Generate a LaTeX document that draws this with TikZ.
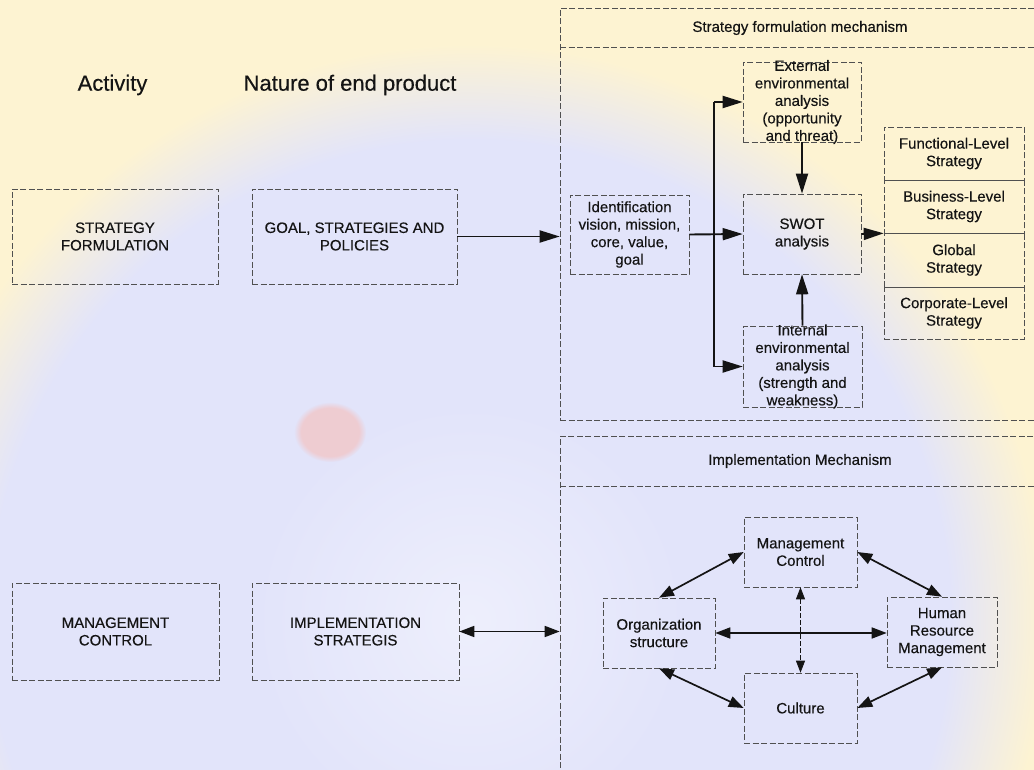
\documentclass[tikz,border=0pt]{standalone}
\usepackage{fontspec}
\setmainfont{Liberation Sans}[FakeBold=0.35]
\usetikzlibrary{arrows.meta,fadings}

\definecolor{ink}{HTML}{141414}
\definecolor{frameline}{HTML}{505050}
\definecolor{wmblue}{RGB}{226,228,250}
\definecolor{wmyellow}{RGB}{253,243,210}
\definecolor{wmred}{RGB}{243,196,196}

% faint seal in the background: lavender disc fading into a pale yellow field
\pgfdeclareradialshading{seal}{\pgfpoint{0bp}{0bp}}{%
  color(0bp)=(wmblue!60!white); color(9bp)=(wmblue); color(20bp)=(wmblue);
  color(24bp)=(wmyellow); color(50bp)=(wmyellow)}

\tikzset{
  dashline/.style={draw=frameline, line width=0.6pt, dash pattern=on 6pt off 2.5pt},
  box/.style={dashline, text=ink, align=center, inner sep=0pt,
    font=\fontsize{15}{17.5}\selectfont},
  frame/.style={dashline, inner sep=0pt},
  hdr/.style={text=ink, inner sep=0pt, font=\fontsize{15}{17.5}\selectfont},
  coltitle/.style={text=ink, inner sep=0pt, font=\fontsize{22}{26}\selectfont},
  boxtext/.style={text=ink, align=center, inner sep=0pt,
    font=\fontsize{15}{17.5}\selectfont},
  arr/.style={draw=ink, line width=1.9pt, -{Triangle[length=20pt,width=12pt]}},
  darr/.style={draw=ink, line width=1.7pt,
    {Triangle[length=15pt,width=11pt]}-{Triangle[length=15pt,width=11pt]}},
  ddarr/.style={draw=ink, line width=0.8pt, dash pattern=on 5pt off 2pt,
    {Triangle[length=12pt,width=9pt]}-{Triangle[length=12pt,width=9pt]}},
}

\begin{document}
\begin{tikzpicture}[x=1pt,y=-1pt]
\useasboundingbox (0,0) rectangle (1034,770);
\clip (0,0) rectangle (1034,770);

% background seal
\fill[wmyellow] (0,0) rectangle (1034,770);
\shade[shading=seal] (470,620) circle (600);
\fill[wmred, opacity=0.75, path fading=circle with fuzzy edge 20 percent] (330,432) ellipse (36 and 30);

% column titles
\node[coltitle] (acttitle) at (112.5,85) {Activity};
\node[coltitle] (endtitle) at (350,85) {Nature of end product};

% left-hand activity and end product boxes
\node[box, minimum width=206pt, minimum height=95pt] (sf) at (115,236.5) {STRATEGY\\FORMULATION};
\node[box, minimum width=205pt, minimum height=95pt] (goal) at (354.5,236.5) {GOAL, STRATEGIES AND\\POLICIES};
\node[box, minimum width=207pt, minimum height=97pt] (mgc) at (115.5,631.5) {MANAGEMENT\\CONTROL};
\node[box, minimum width=207pt, minimum height=97pt] (impl) at (355.5,631.5) {IMPLEMENTATION\\STRATEGIS};

% strategy formulation mechanism frame
\node[frame, minimum width=490pt, minimum height=412pt] (sfm) at (805,214) {};
\coordinate (sfsep) at (560,47);
\draw[dashline] (sfsep) -- (sfsep -| sfm.east);
\node[hdr] (sfmtitle) at (800,28) {Strategy formulation mechanism};

\node[box, minimum width=119pt, minimum height=79pt] (ident) at (629.5,234.5)
  {Identification\\vision, mission,\\core, value,\\goal};
\node[box, minimum width=118pt, minimum height=80pt,
  label={[boxtext, name=exttext]center:{External\\environmental\\analysis\\(opportunity\\and threat)}}]
  (ext) at (802,102) {};
\node[box, minimum width=118pt, minimum height=80pt] (swot) at (802,234) {SWOT\\analysis};
\node[box, minimum width=119pt, minimum height=81pt,
  label={[boxtext, name=inttext]center:{Internal\\environmental\\analysis\\(strength and\\weakness)}}]
  (int) at (802.5,366.5) {};

\node[box, minimum width=140pt, minimum height=53pt] (fls) at (954,153.5) {Functional-Level\\Strategy};
\node[box, minimum width=140pt, minimum height=53pt] (bls) at (954,206.5) {Business-Level\\Strategy};
\node[box, minimum width=140pt, minimum height=54pt] (gls) at (954,260) {Global\\Strategy};
\node[box, minimum width=140pt, minimum height=52pt] (cls) at (954,313) {Corporate-Level\\Strategy};

% formulation flow
\draw[arr] (goal.east) -- (goal.east -| sfm.west);
\draw[arr] (ident.east) -- (swot.west);
\coordinate (split) at (714,234);
\draw[draw=ink, line width=1.9pt] (split |- ext.west) -- (split |- int.west);
\draw[arr] (split |- ext.west) -- (ext.west);
\draw[arr] (split |- int.west) -- (int.west);
\draw[arr] (ext.south) -- (swot.north);
\draw[arr] (int.north) -- (swot.south);
\draw[arr] (swot.east) -- (bls.south west);

% implementation mechanism frame
\node[frame, minimum width=490pt, minimum height=360pt] (imf) at (805,616) {};
\coordinate (imsep) at (560,486);
\draw[dashline] (imsep) -- (imsep -| imf.east);
\node[hdr] (imftitle) at (800,461) {Implementation Mechanism};

\node[box, minimum width=113pt, minimum height=70pt] (mcon) at (800.5,552) {Management\\Control};
\node[box, minimum width=112pt, minimum height=70pt] (org) at (659,633) {Organization\\structure};
\node[box, minimum width=110pt, minimum height=70pt] (hrm) at (942,632) {Human\\Resource\\Management};
\node[box, minimum width=113pt, minimum height=70pt] (cul) at (800.5,708) {Culture};

% implementation links
\draw[darr] (impl.east) -- (impl.east -| imf.west);
\draw[darr] (org.north) -- (mcon.west);
\draw[darr] (mcon.east) -- (hrm.north);
\draw[darr] (org.south) -- (cul.west);
\draw[darr] (hrm.south) -- (cul.east);
\draw[darr] (org.east) -- (org.east -| hrm.west);
\draw[ddarr] (mcon.south) -- (cul.north);
\end{tikzpicture}
\end{document}
